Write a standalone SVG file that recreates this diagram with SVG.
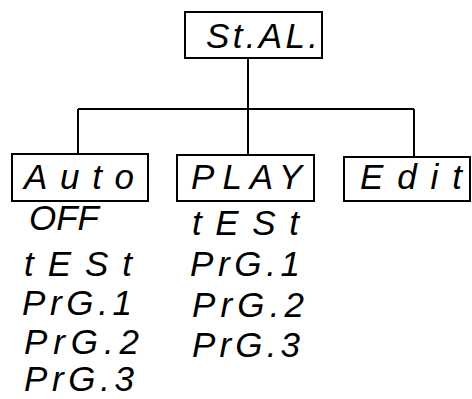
<svg xmlns="http://www.w3.org/2000/svg" width="472" height="399" viewBox="0 0 472 399">
<style>
.box{fill:#fff;stroke:#000;stroke-width:2}
.ln{fill:none;stroke:#000;stroke-width:2}
text{font-family:"Liberation Sans",Arial,sans-serif;font-style:italic;font-size:35px;fill:#000}
</style>
<rect width="472" height="399" fill="#fff"/>
<g id="connectors">
<path class="ln" d="M248 58V109M78 109H414M78 109V154M248 109V155M414 109V157"/>
</g>
<g id="n-stal">
<rect class="box" x="185" y="12" width="137" height="46"/>
<text x="206" y="48" textLength="112" lengthAdjust="spacing">St.AL.</text>
</g>
<g id="n-auto">
<rect class="box" x="12" y="154" width="136" height="47"/>
<text x="24" y="189" textLength="110" lengthAdjust="spacing">Auto</text>
<text x="29" y="230" textLength="70" lengthAdjust="spacing">OFF</text>
<text x="24" y="276" textLength="108" lengthAdjust="spacing">tESt</text>
<text x="22" y="315" textLength="110" lengthAdjust="spacing">PrG.1</text>
<text x="24" y="354" textLength="115" lengthAdjust="spacing">PrG.2</text>
<text x="24" y="391" textLength="110" lengthAdjust="spacing">PrG.3</text>
</g>
<g id="n-play">
<rect class="box" x="177" y="155" width="137" height="46"/>
<text x="191" y="189" textLength="111" lengthAdjust="spacing">PLAY</text>
<text x="192" y="235" textLength="107" lengthAdjust="spacing">tESt</text>
<text x="190" y="276" textLength="110" lengthAdjust="spacing">PrG.1</text>
<text x="192" y="317" textLength="112" lengthAdjust="spacing">PrG.2</text>
<text x="192" y="357" textLength="108" lengthAdjust="spacing">PrG.3</text>
</g>
<g id="n-edit">
<rect class="box" x="344" y="157" width="126" height="44"/>
<text x="360" y="189" textLength="102" lengthAdjust="spacing">Edit</text>
</g>
</svg>
